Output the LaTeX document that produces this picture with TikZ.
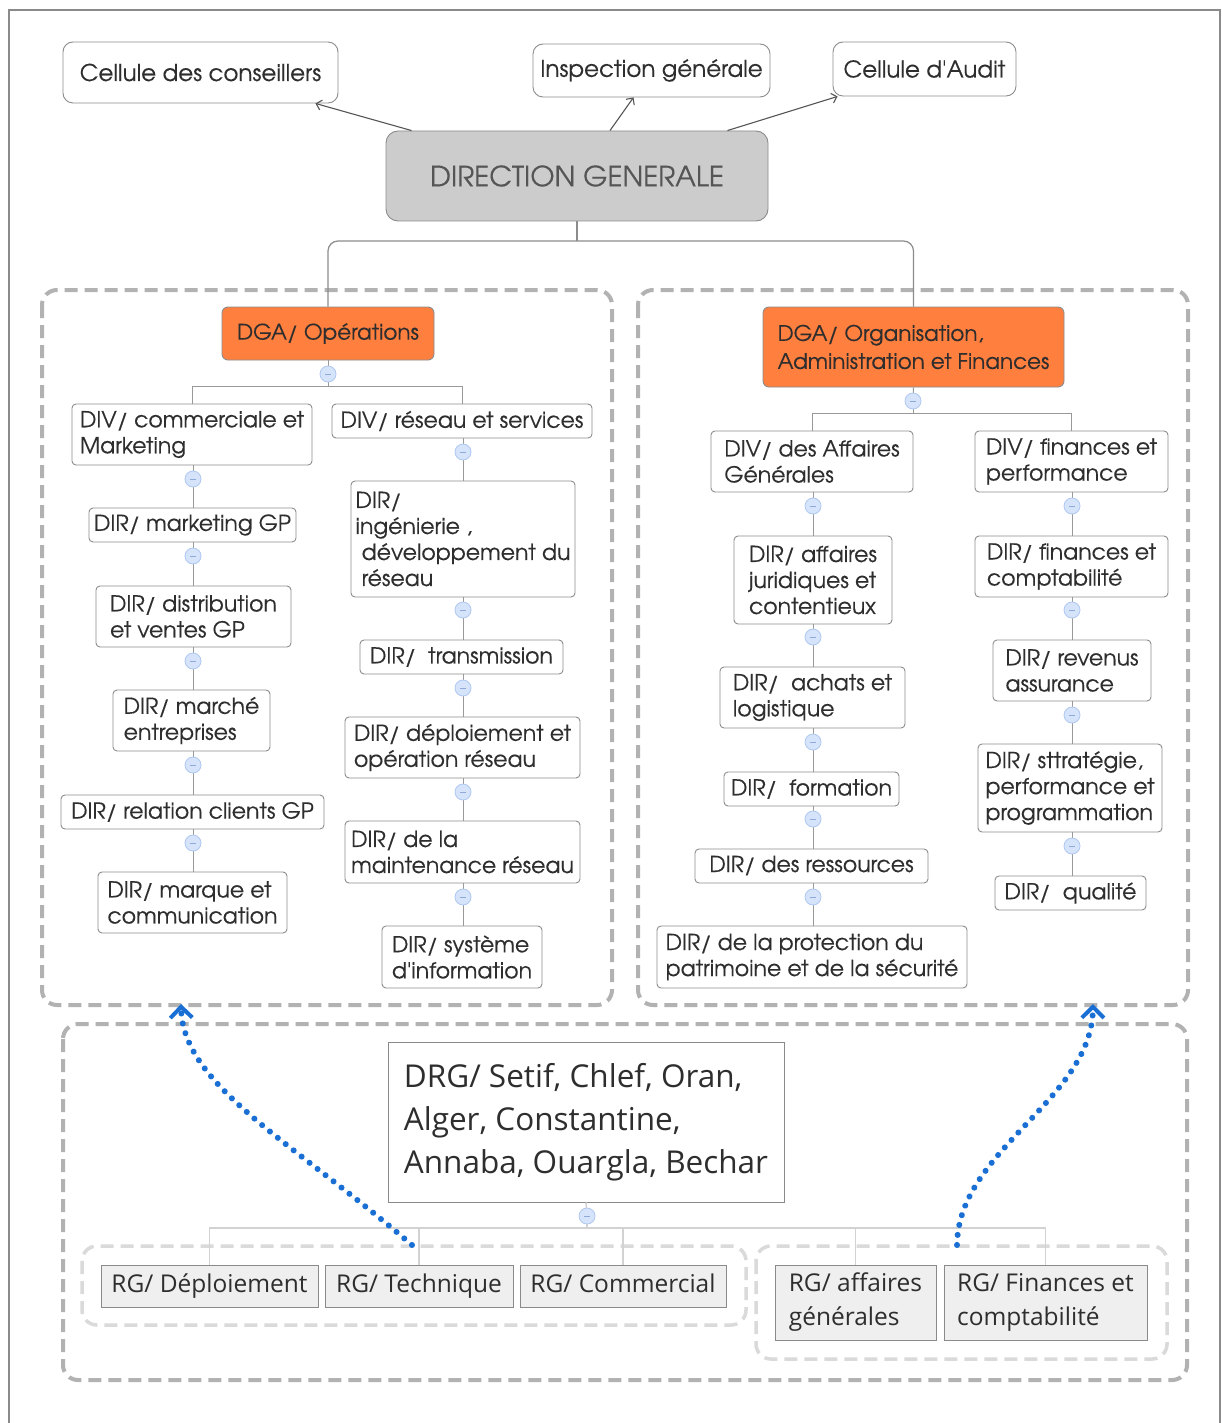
\documentclass[tikz,border=0pt]{standalone}
\usepackage{fontspec}
\setmainfont{TeX Gyre Adventor}[FakeBold=0.25]
\newfontfamily\advq{TeX Gyre Adventor}[FakeBold=0.25]
\newfontfamily\segfont{Open Sans}
\usetikzlibrary{arrows.meta}
\definecolor{bord}{HTML}{8C8C8C}
\definecolor{txt}{HTML}{2E2E2E}
\definecolor{dgfill}{HTML}{CCCCCC}
\definecolor{dgtxt}{HTML}{555555}
\definecolor{orng}{HTML}{FE7F3E}
\definecolor{edgec}{HTML}{999999}
\definecolor{edgel}{HTML}{D2D2D2}
\definecolor{grpc}{HTML}{B2B2B2}
\definecolor{grpl}{HTML}{DADADA}
\definecolor{collf}{HTML}{D5E3FB}
\definecolor{collb}{HTML}{AFC8F0}
\definecolor{colm}{HTML}{8FAAD8}
\definecolor{rgfill}{HTML}{EFEFEF}
\definecolor{rgb}{HTML}{8A8A8A}
\definecolor{bluep}{HTML}{1A6FD4}
\definecolor{framec}{HTML}{8A8A8A}
\newcommand\B[7]{\node[#2,minimum width={(#5-#3)*1pt},minimum height={(#6-#4)*1pt}] (#1) at ({(#3+#5)/2},{(#4+#6)/2}) {#7};}
\newcommand\apos{{\advq'}}
\tikzset{
 box/.style={draw=bord, line width=0.9pt, rounded corners=4pt, fill=white, inner sep=0pt, align=left, text=txt, font=\fontsize{22}{26}\selectfont},
 topbox/.style={box, rounded corners=10pt, font=\fontsize{23}{26}\selectfont},
 dgbox/.style={box, rounded corners=12pt, fill=dgfill, text=dgtxt, font=\fontsize{28}{32}\selectfont},
 dgabox/.style={box, rounded corners=6pt, fill=orng, font=\fontsize{21.5}{28}\selectfont},
 rgbox/.style={draw=rgb, line width=1pt, fill=rgfill, inner sep=0pt, align=left, text=txt, font=\segfont\fontsize{24.5}{34}\selectfont},
 drgbox/.style={draw=rgb, line width=1pt, fill=white, inner sep=0pt, align=left, text=txt, font=\segfont\fontsize{31.5}{43}\selectfont},
 edge/.style={draw=edgec, line width=1pt},
 edgelt/.style={draw=edgel, line width=1.5pt},
 dgedge/.style={draw=bord, line width=1.2pt},
 arr/.style={draw=dgtxt, line width=1.1pt, -{Straight Barb[length=5pt,width=10pt]}},
 grp/.style={draw=grpc, line width=4pt, rounded corners=15pt, dash pattern=on 13pt off 7pt},
 grplt/.style={draw=grpl, line width=3.5pt, rounded corners=15pt, dash pattern=on 13pt off 7pt},
 coll/.style={circle, draw=collb, fill=collf, minimum size=16pt, inner sep=0pt, line width=0.8pt,
   path picture={\draw[colm, line width=0.9pt] ([xshift=-3pt]path picture bounding box.center) -- ([xshift=3pt]path picture bounding box.center);}},
 bluearr/.style={draw=bluep, line width=6pt, line cap=round, dash pattern=on 0.1pt off 10pt,
   -{Straight Barb[length=11pt,width=22pt,line width=4pt]}},
}
\begin{document}
\begin{tikzpicture}[x=1pt,y=-1pt]
\useasboundingbox (0,0) rectangle (1221,1423);
\fill[white] (0,0) rectangle (1221,1423);
\draw[framec, line width=1.5pt] (9,1430) -- (9,10) -- (1220,10) -- (1220,1430);

% groups
\draw[grp] (42,290) rectangle (612,1005);
\draw[grp] (638,290) rectangle (1188,1005);
\draw[grp] (63,1024) rectangle (1187,1380);
\draw[grplt] (82,1246) rectangle (746,1325);
\draw[grplt] (756,1246) rectangle (1167,1359);

% collapse coordinates
\coordinate (a0) at (328,374);
\coordinate (a1) at (193,479);
\coordinate (a2) at (193,556);
\coordinate (a3) at (193,661);
\coordinate (a4) at (193,765);
\coordinate (a5) at (193,843);
\coordinate (b1) at (463,452);
\coordinate (b2) at (463,610);
\coordinate (b3) at (463,688);
\coordinate (b4) at (463,792);
\coordinate (b5) at (463,897);
\coordinate (c0) at (913,401);
\coordinate (d1) at (813,506);
\coordinate (d2) at (813,637);
\coordinate (d3) at (813,742);
\coordinate (d4) at (813,819);
\coordinate (d5) at (813,897);
\coordinate (e1) at (1072,506);
\coordinate (e2) at (1072,610);
\coordinate (e3) at (1072,715);
\coordinate (e4) at (1072,846);
\coordinate (f0) at (587,1216);

% top
\B{cc}{topbox}{63}{42}{338}{103}{Cellule des conseillers}
\B{insp}{topbox}{533}{44}{770}{97}{Inspection générale}
\B{audit}{topbox}{833}{42}{1016}{96}{Cellule d\apos Audit}
\B{dg}{dgbox}{386}{131}{768}{221}{DIRECTION GENERALE}

\draw[arr] ([xshift=26pt]dg.north west) -- ([xshift=-23pt]cc.south east);
\draw[arr] ([xshift=33pt]dg.north) -- ([xshift=-18pt]insp.south);
\draw[arr] ([xshift=-41pt]dg.north east) -- ([xshift=5pt]audit.south west);

% DGA
\B{dgaops}{dgabox}{222}{307}{434}{360}{DGA/ Opérations}
\B{dgaorg}{dgabox}{763}{307}{1064}{387}{DGA/ Organisation,\\Administration et Finances}
\draw[dgedge] (dg.south) -- ++(0,20);
\draw[dgedge, rounded corners=10pt] (dgaops.north) -- (dgaops.north |- 0,241) -- (dgaorg.north |- 0,241) -- (dgaorg.north);

% left group nodes
\B{divcom}{box}{72}{404}{312}{465}{DIV/ commerciale et\\Marketing}
\B{divres}{box}{332}{404}{592}{438}{DIV/ réseau et services}
\B{mkt}{box}{89}{508}{296}{542}{DIR/ marketing GP}
\B{dist}{box}{96}{586}{291}{647}{DIR/ distribution\\et ventes GP}
\B{marche}{box}{113}{690}{270}{751}{DIR/ marché\\entreprises}
\B{relc}{box}{61}{795}{324}{829}{DIR/ relation clients GP}
\B{marq}{box}{98}{872}{287}{933}{DIR/ marque et\\communication}
\B{ing}{box}{351}{481}{575}{597}{DIR/\\ingénierie ,\\\ développement du\\\ réseau}
\B{trans}{box}{360}{640}{563}{674}{DIR/\ \ transmission}
\B{depl}{box}{345}{717}{580}{778}{DIR/ déploiement et\\opération réseau}
\B{maint}{box}{345}{821}{580}{883}{DIR/ de la\\maintenance réseau}
\B{sysi}{box}{382}{926}{542}{988}{DIR/ système\\d\apos information}

% right group nodes
\B{divag}{box}{711}{431}{913}{492}{DIV/ des Affaires\\Générales}
\B{divfp}{box}{975}{431}{1168}{492}{DIV/ finances et\\performance}
\B{jur}{box}{734}{536}{892}{624}{DIR/ affaires\\juridiques et\\contentieux}
\B{achat}{box}{720}{667}{905}{728}{DIR/\ \ achats et\\logistique}
\B{form}{box}{724}{772}{899}{806}{DIR/\ \ formation}
\B{ress}{box}{695}{849}{928}{883}{DIR/ des ressources\vphantom{p}}
\B{prot}{box}{657}{926}{967}{988}{DIR/ de la protection du\\patrimoine et de la sécurité}
\B{fincomp}{box}{975}{536}{1168}{597}{DIR/ finances et\\comptabilité}
\B{rev}{box}{993}{640}{1151}{701}{DIR/ revenus\\assurance}
\B{strat}{box}{978}{744}{1162}{832}{DIR/ sttratégie,\\performance et\\programmation}
\B{qual}{box}{995}{876}{1146}{910}{DIR/\ \ qualité}

% bottom nodes
\B{drg}{drgbox}{388}{1042}{784}{1202}{DRG/ Setif, Chlef, Oran,\\Alger, Constantine,\\Annaba, Ouargla, Bechar}
\B{rgdep}{rgbox}{101}{1265}{318}{1307}{RG/ Déploiement}
\B{rgtech}{rgbox}{325}{1265}{513}{1307}{RG/ Technique}
\B{rgcom}{rgbox}{520}{1265}{726}{1307}{RG/ Commercial\vphantom{p}}
\B{rgaff}{rgbox}{775}{1265}{936}{1340}{RG/ affaires\\générales}
\B{rgfin}{rgbox}{944}{1265}{1147}{1340}{RG/ Finances et\\comptabilité}

% left group edges
\draw[edge] (dgaops.south) -- (a0);
\draw[edge] (a0) -- ++(0,12) -| (divcom.north);
\draw[edge] (a0) ++(0,12) -| (divres.north);
\draw[edge] (divcom.south -| a1) -- (mkt.north -| a1);
\draw[edge] (mkt.south -| a2) -- (dist.north -| a2);
\draw[edge] (dist.south -| a3) -- (marche.north -| a3);
\draw[edge] (marche.south -| a4) -- (relc.north -| a4);
\draw[edge] (relc.south -| a5) -- (marq.north -| a5);
\draw[edge] (divres.south -| b1) -- (ing.north -| b1);
\draw[edge] (ing.south -| b2) -- (trans.north -| b2);
\draw[edge] (trans.south -| b3) -- (depl.north -| b3);
\draw[edge] (depl.south -| b4) -- (maint.north -| b4);
\draw[edge] (maint.south -| b5) -- (sysi.north -| b5);

% right group edges
\draw[edge] (dgaorg.south) -- (c0);
\draw[edge] (c0) -- ++(0,12) -| (divag.north);
\draw[edge] (c0) ++(0,12) -| (divfp.north);
\draw[edge] (divag.south -| d1) -- (jur.north -| d1);
\draw[edge] (jur.south -| d2) -- (achat.north -| d2);
\draw[edge] (achat.south -| d3) -- (form.north -| d3);
\draw[edge] (form.south -| d4) -- (ress.north -| d4);
\draw[edge] (ress.south -| d5) -- (prot.north -| d5);
\draw[edge] (divfp.south -| e1) -- (fincomp.north -| e1);
\draw[edge] (fincomp.south -| e2) -- (rev.north -| e2);
\draw[edge] (rev.south -| e3) -- (strat.north -| e3);
\draw[edge] (strat.south -| e4) -- (qual.north -| e4);

% bottom edges
\draw[edgelt] (drg.south) -- (f0);
\draw[edgelt] (f0) -- ++(0,12) -| (rgdep.north);
\draw[edgelt] (f0) ++(0,12) -| (rgtech.north);
\draw[edgelt] (f0) ++(0,12) -| (rgcom.north);
\draw[edgelt] (f0) ++(0,12) -| (rgaff.north);
\draw[edgelt] (f0) ++(0,12) -| (rgfin.north);

% collapse circles
\foreach \c in {a0,a1,a2,a3,a4,a5,b1,b2,b3,b4,b5,c0,d1,d2,d3,d4,d5,e1,e2,e3,e4,f0}
  \node[coll] (\c n) at (\c) {};

% blue dotted arrows
\coordinate (s1) at (412,1245);
\coordinate (t1) at (181,1004);
\coordinate (s2) at (957,1245);
\coordinate (t2) at (1093,1004);
\draw[bluearr] (s1) .. controls (290,1140) and (183,1085) .. (t1);
\draw[bluearr] (s2) .. controls (958,1150) and (1092,1100) .. (t2);
\end{tikzpicture}
\end{document}
